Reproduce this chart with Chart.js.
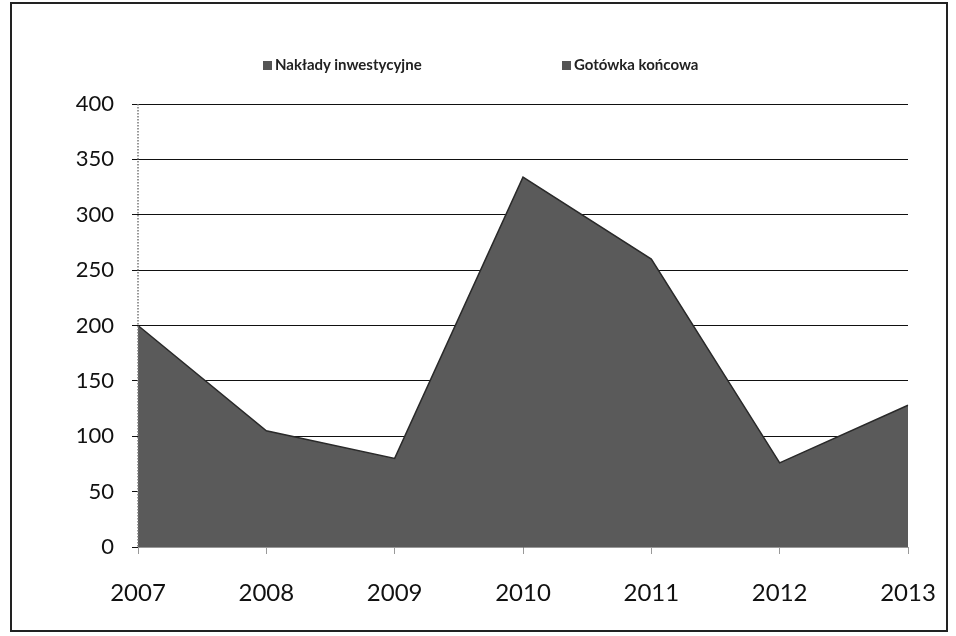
<!DOCTYPE html>
<html>
<head>
<meta charset="utf-8">
<script src="https://cdn.jsdelivr.net/npm/chart.js@4"></script>
<style>
  html, body { margin: 0; padding: 0; background: #fff; }
  #wrap { position: relative; width: 956px; height: 636px; }
  #frame { position: absolute; left: 10px; top: 2px; width: 934px; height: 626px; border: 2px solid #222; box-sizing: content-box; pointer-events: none; }
  #legend { position: absolute; top: 55px; left: 0; width: 956px; height: 20px; font-family: Lato, "Noto Sans", sans-serif; font-size: 15px; font-weight: bold; color: #222; }
  .li { position: absolute; white-space: nowrap; }
  .sw { display: inline-block; width: 9px; height: 9px; background: #555; margin-right: 3px; vertical-align: 0px; }
  canvas { position: absolute; left: 0; top: 0; }
</style>
</head>
<body>
<div id="wrap">
  <canvas id="c" width="956" height="636"></canvas>
  <div id="legend"></div>
  <div id="frame"></div>
</div>
<script>
const categories = ["2007", "2008", "2009", "2010", "2011", "2012", "2013"];
const seriesNames = ["Nakłady inwestycyjne", "Gotówka końcowa"];
const naklady = [200, 105, 80, 334, 260, 76, 128];
const gotowka = [null, null, null, null, null, null, null];
const yTicks = [0, 50, 100, 150, 200, 250, 300, 350, 400];

const fillColor = "#5a5a5a";

const legendPos = [263, 562];
const legendEl = document.getElementById("legend");
seriesNames.forEach((n, i) => {
  const d = document.createElement("div");
  d.className = "li";
  d.style.left = legendPos[i] + "px";
  d.innerHTML = '<span class="sw"></span>' + n;
  legendEl.appendChild(d);
});

const dottedAxis = {
  id: "dottedAxis",
  afterDatasetsDraw(chart) {
    const { ctx, chartArea } = chart;
    ctx.save();
    ctx.strokeStyle = "#777";
    ctx.lineWidth = 1.5;
    ctx.setLineDash([1.5, 1.5]);
    ctx.beginPath();
    ctx.moveTo(chartArea.left, chartArea.top);
    ctx.lineTo(chartArea.left, chartArea.bottom);
    ctx.stroke();
    ctx.restore();
  }
};

new Chart(document.getElementById("c"), {
  type: "line",
  data: {
    labels: categories,
    datasets: [
      { label: seriesNames[0], data: naklady, fill: "origin", backgroundColor: fillColor, borderColor: "#2a2a2a", borderWidth: 1.5, pointRadius: 0, tension: 0 },
      { label: seriesNames[1], data: gotowka, fill: "origin", backgroundColor: fillColor, borderColor: "#2a2a2a", borderWidth: 1.5, pointRadius: 0, tension: 0 }
    ]
  },
  options: {
    responsive: false,
    animation: false,
    layout: { padding: { left: 20, right: 48, top: 104, bottom: 20 } },
    plugins: { legend: { display: false }, tooltip: { enabled: false } },
    scales: {
      x: {
        offset: false,
        grid: { display: true, drawOnChartArea: false, drawTicks: true, tickLength: 7, color: "#999" },
        border: { display: true, color: "#999", width: 1 },
        ticks: { color: "#111", padding: 25, font: { family: "Lato, 'Noto Sans', sans-serif", size: 24 } },
        afterFit: (s) => { s.height = 69; s.paddingRight = 27; }
      },
      y: {
        min: 0, max: 400,
        afterBuildTicks: (s) => { s.ticks = yTicks.map(v => ({ value: v })); },
        grid: { color: "#111", lineWidth: 1, tickLength: 6 },
        border: { display: false },
        ticks: { color: "#111", padding: 18, font: { family: "Lato, 'Noto Sans', sans-serif", size: 22 } },
        afterFit: (s) => { s.width = 118; }
      }
    }
  },
  plugins: [dottedAxis]
});
</script>
</body>
</html>
